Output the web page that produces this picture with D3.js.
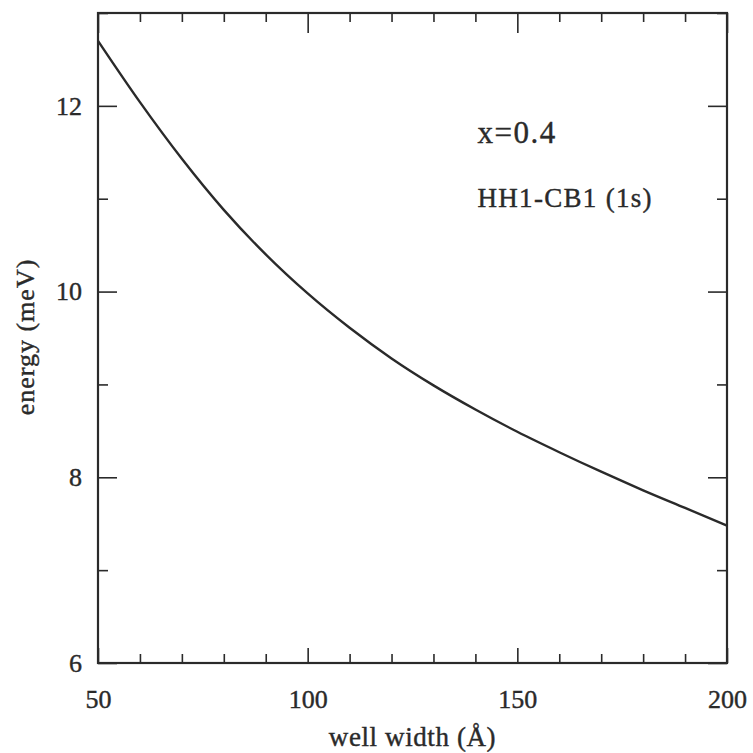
<!DOCTYPE html>
<html>
<head>
<meta charset="utf-8">
<script src="https://cdn.jsdelivr.net/npm/d3@7"></script>
<style>
  body { margin: 0; background: #fff; }
  svg { display: block; font-family: "Liberation Serif", "DejaVu Serif", serif; }
</style>
</head>
<body>
<script>
// data
const widths = [50, 60, 70, 80, 90, 100, 110, 120, 130, 140, 150, 160, 170, 180, 190, 200]
const energies = [12.70, 12.04, 11.43, 10.88, 10.40, 9.98, 9.61, 9.28, 8.99, 8.73, 8.49, 8.27, 8.06, 7.86, 7.67, 7.48]
const xTicks = [50, 100, 150, 200]
const yTicks = [6, 8, 10, 12]

const W = 753, H = 753
const margin = { top: 13, right: 26, bottom: 90, left: 98 }
const innerW = W - margin.left - margin.right
const innerH = H - margin.top - margin.bottom
const ink = "#2a2a2a"

const x = d3.scaleLinear().domain([50, 200]).range([0, innerW])
const y = d3.scaleLinear().domain([6, 13]).range([innerH, 0])

const svg = d3.select("body").append("svg")
  .attr("width", W).attr("height", H)

const g = svg.append("g").attr("transform", `translate(${margin.left},${margin.top})`)

// minor ticks first, then major ones with labels
const xMinor = d3.range(50, 201, 10).filter(v => !xTicks.includes(v))
const yMinor = d3.range(6, 13.01, 1).filter(v => !yTicks.includes(v))

function styleAxis(sel) {
  sel.select(".domain").remove()
  sel.selectAll("line").attr("stroke", ink).attr("stroke-width", 1.6)
  sel.selectAll("text").attr("fill", ink).attr("font-size", 26)
    .attr("font-family", "Liberation Serif, serif")
    .attr("stroke", ink).attr("stroke-width", 0.4)
}

// bottom
g.append("g").attr("transform", `translate(0,${innerH})`)
  .call(d3.axisBottom(x).tickValues(xMinor).tickSize(-9).tickFormat(""))
  .call(styleAxis)
g.append("g").attr("transform", `translate(0,${innerH})`)
  .call(d3.axisBottom(x).tickValues(xTicks).tickSize(-15).tickPadding(27).tickFormat(d3.format("d")))
  .call(styleAxis)
// top
g.append("g")
  .call(d3.axisTop(x).tickValues(xMinor).tickSize(-9).tickFormat(""))
  .call(styleAxis)
g.append("g")
  .call(d3.axisTop(x).tickValues(xTicks).tickSize(-20).tickFormat(""))
  .call(styleAxis)
// left
g.append("g")
  .call(d3.axisLeft(y).tickValues(yMinor).tickSize(-10).tickFormat(""))
  .call(styleAxis)
g.append("g")
  .call(d3.axisLeft(y).tickValues(yTicks).tickSize(-19).tickPadding(16).tickFormat(d3.format("d")))
  .call(styleAxis)
// right
g.append("g").attr("transform", `translate(${innerW},0)`)
  .call(d3.axisRight(y).tickValues(yMinor).tickSize(-10).tickFormat(""))
  .call(styleAxis)
g.append("g").attr("transform", `translate(${innerW},0)`)
  .call(d3.axisRight(y).tickValues(yTicks).tickSize(-19).tickFormat(""))
  .call(styleAxis)

// frame
g.append("rect")
  .attr("width", innerW).attr("height", innerH)
  .attr("fill", "none").attr("stroke", ink).attr("stroke-width", 2.2)

// curve
const line = d3.line()
  .x((d, i) => x(widths[i]))
  .y(d => y(d))
  .curve(d3.curveMonotoneX)

g.append("path")
  .datum(energies)
  .attr("d", line)
  .attr("fill", "none")
  .attr("stroke", ink)
  .attr("stroke-width", 2.4)

// annotations
g.append("text")
  .attr("x", x(140.5)).attr("y", 130)
  .attr("font-size", 31).attr("letter-spacing", 1.5)
  .attr("fill", ink).attr("stroke", ink).attr("stroke-width", 0.4)
  .text("x=0.4")
g.append("text")
  .attr("x", x(140.5)).attr("y", 194)
  .attr("font-size", 27).attr("letter-spacing", 1.3)
  .attr("fill", ink).attr("stroke", ink).attr("stroke-width", 0.4)
  .text("HH1-CB1 (1s)")

// axis titles
svg.append("text")
  .attr("x", margin.left + x(125)).attr("y", 746)
  .attr("text-anchor", "middle")
  .attr("font-size", 27).attr("letter-spacing", 0.6)
  .attr("fill", ink).attr("stroke", ink).attr("stroke-width", 0.4)
  .text("well width (Å)")

svg.append("text")
  .attr("transform", `translate(34,${337}) rotate(-90)`)
  .attr("text-anchor", "middle")
  .attr("font-size", 26).attr("letter-spacing", 1)
  .attr("fill", ink).attr("stroke", ink).attr("stroke-width", 0.4)
  .text("energy (meV)")
</script>
</body>
</html>
